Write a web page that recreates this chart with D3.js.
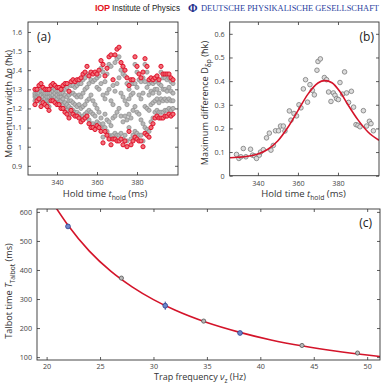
<!DOCTYPE html>
<html>
<head>
<meta charset="utf-8">
<script src="https://cdn.jsdelivr.net/npm/d3@7"></script>
<style>
  body { margin: 0; background: #fff; }
  svg text { font-family: "Open Sans", "DejaVu Sans", sans-serif; }
</style>
</head>
<body>
<div id="chart"></div>
<script>
// --- Data ---
// (a) hold times and the max / min widths (red) plus the other widths (grey)
const holdTimes = d3.range(329, 399);
const widthHigh = [1.30,1.30,1.32,1.33,1.31,1.30,1.30,1.30,1.32,1.33,1.32,1.31,1.31,1.30,1.32,1.33,1.33,1.29,1.34,1.35,
  1.34,1.35,1.35,1.36,1.38,1.39,1.42,1.37,1.39,1.38,1.39,1.38,1.40,1.45,1.43,1.37,1.41,1.47,1.48,1.35,
  1.48,1.51,1.52,1.44,1.42,1.40,1.36,1.32,1.35,1.35,1.47,1.42,1.38,1.36,1.39,1.46,1.42,1.35,1.36,1.35,
  1.36,1.37,1.35,1.42,1.38,1.38,1.38,1.38,1.36,1.35];
const widthLow = [1.22,1.24,1.25,1.21,1.23,1.22,1.21,1.19,1.24,1.24,1.23,1.22,1.22,1.20,1.20,1.18,1.17,1.15,1.19,1.17,
  1.16,1.16,1.15,1.13,1.14,1.15,1.16,1.12,1.10,1.10,1.09,1.11,1.10,1.08,1.02,1.08,1.06,1.04,1.01,1.04,
  1.04,1.03,1.03,1.04,1.01,1.03,1.00,1.08,1.01,1.03,1.05,1.04,1.03,1.03,1.00,1.07,1.06,1.05,1.10,1.12,
  1.15,1.16,1.15,1.15,1.15,1.16,1.16,1.17,1.16,1.17];
const widthOther = [
  [1.24,1.26,1.27,1.28],[1.25,1.26,1.28,1.29],[1.26,1.27,1.28,1.30],[1.23,1.25,1.27,1.29],[1.24,1.26,1.28,1.29],
  [1.23,1.25,1.27,1.28],[1.22,1.24,1.26,1.28],[1.21,1.24,1.26,1.28],[1.25,1.27,1.28,1.30],[1.25,1.27,1.29,1.31],
  [1.24,1.26,1.28,1.30],[1.23,1.25,1.27,1.29],[1.23,1.26,1.28,1.29],[1.21,1.24,1.26,1.28],[1.22,1.25,1.28,1.30],
  [1.20,1.23,1.27,1.30],[1.19,1.22,1.26,1.31],[1.17,1.21,1.24,1.27],[1.20,1.24,1.28,1.32],[1.19,1.23,1.28,1.32],
  [1.18,1.22,1.27,1.31],[1.18,1.21,1.26,1.32],[1.17,1.22,1.27,1.33],[1.15,1.20,1.26,1.33],[1.16,1.21,1.28,1.35],
  [1.17,1.22,1.30,1.36],[1.18,1.24,1.31,1.38],[1.14,1.19,1.25,1.33],[1.12,1.18,1.27,1.35],[1.12,1.17,1.24,1.34],
  [1.11,1.16,1.22,1.35],[1.13,1.20,1.31,1.36],[1.12,1.18,1.30,1.37],[1.10,1.15,1.33,1.41],[1.05,1.12,1.27,1.39],
  [1.10,1.17,1.25,1.34],[1.08,1.14,1.28,1.38],[1.06,1.13,1.30,1.43],[1.04,1.11,1.24,1.42],[1.06,1.15,1.22,1.32],
  [1.07,1.16,1.29,1.44],[1.06,1.18,1.33,1.46],[1.06,1.20,1.36,1.47],[1.07,1.16,1.28,1.40],[1.04,1.13,1.26,1.38],
  [1.06,1.16,1.24,1.37],[1.03,1.14,1.22,1.33],[1.10,1.17,1.25,1.30],[1.04,1.15,1.27,1.33],[1.06,1.19,1.28,1.33],
  [1.08,1.21,1.33,1.43],[1.07,1.18,1.31,1.39],[1.06,1.17,1.27,1.35],[1.06,1.14,1.25,1.34],[1.03,1.12,1.28,1.36],
  [1.10,1.21,1.34,1.43],[1.09,1.20,1.31,1.39],[1.08,1.19,1.27,1.33],[1.13,1.22,1.29,1.34],[1.15,1.23,1.28,1.33],
  [1.18,1.24,1.30,1.34],[1.19,1.25,1.30,1.35],[1.18,1.23,1.28,1.33],[1.18,1.25,1.32,1.39],[1.18,1.24,1.30,1.36],
  [1.19,1.25,1.30,1.36],[1.19,1.24,1.29,1.35],[1.20,1.25,1.31,1.36],[1.19,1.24,1.29,1.34],[1.20,1.24,1.28,1.33]
];

// (b) maximum difference vs hold time, and the fitted curve
const diffTime = [329.3,330.5,331.5,332.7,334,336.3,337.3,338.3,339.3,340.7,341.3,342.7,344.3,345.7,346.5,347.7,348.8,350.3,
  351.3,352.7,353.5,355.7,356.5,358,359.3,360.5,361.5,362.7,363.8,364.8,366,367.2,368.2,369.5,370,371.2,373.2,374.3,
  375.3,376.5,377.7,378.5,379.3,380.2,381,382.3,383.3,384.3,385.3,386.7,387.8,389,390,391,392.7,394.3,395.7,396.5,397.7];
const diffValue = [0.090,0.073,0.080,0.115,0.080,0.112,0.087,0.084,0.073,0.087,0.100,0.110,0.160,0.180,0.108,0.128,0.190,0.190,
  0.210,0.210,0.189,0.274,0.235,0.263,0.253,0.300,0.287,0.367,0.406,0.311,0.385,0.361,0.342,0.446,0.483,0.494,0.415,0.406,
  0.354,0.314,0.350,0.340,0.326,0.322,0.394,0.345,0.439,0.350,0.310,0.357,0.290,0.216,0.213,0.207,0.275,0.210,0.230,0.220,0.190];
const fitTime = [325.9,330,335,340,345,350,355,360,365,370,373.5,377,381,385,390,395,400.5];
const fitValue = [0.076,0.078,0.082,0.092,0.112,0.148,0.205,0.275,0.345,0.392,0.402,0.393,0.355,0.300,0.236,0.185,0.150];

// (c) Talbot time vs trap frequency
const trapFreq = [22, 27, 31.1, 34.7, 38.1, 43.9, 49.1];
const talbotTime = [550, 372, 277, 224, 183, 140, 114];
const talbotErr = [6, 0, 14, 0, 6, 0, 0];
const talbotBlue = [true, false, true, false, true, false, false];
const curveFreq = [20.9, 22, 24, 26, 28, 30, 32, 35, 38, 41, 44, 47, 50, 51.2];
const curveTime = [613, 554, 465, 396, 342, 298, 262, 219, 186, 159, 138, 121, 107, 102];

// --- Setup ---
const W = 384, H = 383;
const svg = d3.select("#chart").append("svg").attr("width", W).attr("height", H);
const RED = "#d4142a", AXIS = "#333";

// header (inline style so the CSS default font does not win)
const hdr = svg.append("g");
hdr.append("text").attr("x", 95).attr("y", 11).style("font-family", "'Liberation Sans', Arial").attr("font-weight", "bold")
  .attr("font-size", 9).attr("fill", "#e3141c").attr("textLength", 15).text("IOP");
hdr.append("text").attr("x", 112).attr("y", 11).style("font-family", "'Liberation Sans Narrow', 'Liberation Sans'")
  .attr("font-size", 8.5).attr("fill", "#222").attr("textLength", 68).attr("lengthAdjust", "spacingAndGlyphs").text("Institute of Physics");
hdr.append("text").attr("x", 188).attr("y", 11.5).style("font-family", "'Liberation Serif', serif").attr("font-weight", "bold")
  .attr("font-size", 11.5).attr("fill", "#1d2d8a").text("Φ");
hdr.append("text").attr("x", 201).attr("y", 11).style("font-family", "'Liberation Serif', serif")
  .attr("font-size", 7.4).attr("fill", "#2b3fa0").attr("textLength", 178).attr("lengthAdjust", "spacingAndGlyphs")
  .text("DEUTSCHE PHYSIKALISCHE GESELLSCHAFT");

// --- helpers ---
function frame(x, y, xTicks, yTicks, yFmt, xPad, yPad) {
  const g = svg.append("g");
  const [x0, x1] = x.range(), [y0, y1] = y.range();
  const axes = [
    [d3.axisBottom(x).tickValues(xTicks).tickPadding(xPad), `translate(0,${y0})`],
    [d3.axisTop(x).tickValues(xTicks).tickFormat(""), `translate(0,${y1})`],
    [d3.axisLeft(y).tickValues(yTicks).tickFormat(yFmt).tickPadding(yPad), `translate(${x0},0)`],
    [d3.axisRight(y).tickValues(yTicks).tickFormat(""), `translate(${x1},0)`]
  ];
  axes.forEach(([ax, tr]) => {
    const a = g.append("g").attr("transform", tr).call(ax.tickSizeInner(-3).tickSizeOuter(0));
    a.select(".domain").remove();
    a.selectAll(".tick line").attr("stroke", AXIS).attr("stroke-width", 0.8);
    a.selectAll("text").attr("fill", "#444").attr("font-size", 7.2);
  });
  g.append("rect").attr("x", x0).attr("y", y1).attr("width", x1 - x0).attr("height", y0 - y1)
    .attr("fill", "none").attr("stroke", AXIS).attr("stroke-width", 0.9);
  return g;
}

function label(x, y, rot, parts, size) {
  const t = svg.append("text").attr("font-size", size).attr("fill", "#333").attr("text-anchor", "middle")
    .attr("transform", `translate(${x},${y}) rotate(${rot})`);
  let shift = 0;
  parts.forEach(([s, kind]) => {
    const sp = t.append("tspan").text(s);
    const want = kind === "s" ? 2.5 : 0;
    if (want !== shift) { sp.attr("dy", want - shift); shift = want; }
    if (kind === "i") sp.attr("font-style", "italic");
    if (kind === "s") sp.attr("font-size", size * 0.72);
  });
}

function panelTag(x, y, s, anchor) {
  svg.append("text").attr("x", x).attr("y", y).attr("font-size", 12).attr("fill", "#222")
    .attr("text-anchor", anchor).text(s);
}

// --- (a) ---
const xA = d3.scaleLinear().domain([325.5, 400.5]).range([28, 178]);
const yA = d3.scaleLinear().domain([0.852, 1.652]).range([175, 22]);
const grayPts = holdTimes.flatMap((t, i) => widthOther[i].map(v => [t, v]));
const redPts = holdTimes.flatMap((t, i) => [[t, widthHigh[i]], [t, widthLow[i]]]);
svg.append("g").selectAll("circle").data(grayPts).join("circle")
  .attr("cx", d => xA(d[0])).attr("cy", d => yA(d[1])).attr("r", 2.1)
  .attr("fill", "#b8b8b8").attr("stroke", "#8a8a8a").attr("stroke-width", 0.7);
svg.append("g").selectAll("circle").data(redPts).join("circle")
  .attr("cx", d => xA(d[0])).attr("cy", d => yA(d[1])).attr("r", 2.1)
  .attr("fill", "#f07078").attr("stroke", "#e0102a").attr("stroke-width", 1);
frame(xA, yA, [340, 360, 380], d3.range(0.9, 1.65, 0.1), d => +d.toFixed(1), 5, 6);
label(105, 197, 0, [["Hold time "], ["t", "i"], ["hold", "s"], [" (ms)"]], 9.5);
label(12, 104, -90, [["Momentum width Δ"], ["p", "i"], [" (ħk)"]], 9.2);
panelTag(37, 41, "(a)", "start");

// --- (b) ---
const xB = d3.scaleLinear().domain([325.9, 400.5]).range([229.7, 379]);
const yB = d3.scaleLinear().domain([0, 0.65]).range([175.7, 22]);
svg.append("clipPath").attr("id", "clipB").append("rect")
  .attr("x", 229.7).attr("y", 22).attr("width", 149.3).attr("height", 153.7);
svg.append("g").selectAll("circle").data(diffTime).join("circle")
  .attr("cx", d => xB(d)).attr("cy", (d, i) => yB(diffValue[i])).attr("r", 2.3)
  .attr("fill", "#dcdcdc").attr("stroke", "#7a7a7a").attr("stroke-width", 0.8);
svg.append("path").datum(fitTime.map((t, i) => [t, fitValue[i]]))
  .attr("clip-path", "url(#clipB)")
  .attr("d", d3.line().x(d => xB(d[0])).y(d => yB(d[1])).curve(d3.curveMonotoneX))
  .attr("fill", "none").attr("stroke", RED).attr("stroke-width", 1.6);
frame(xB, yB, [340, 360, 380], d3.range(0, 0.65, 0.1), d => +d.toFixed(1), 5, 5);
label(303.5, 197, 0, [["Hold time "], ["t", "i"], ["hold", "s"], [" (ms)"]], 9.5);
label(208, 103, -90, [["Maximum difference D"], ["δp", "s"], [" (ħk)"]], 9.2);
panelTag(374, 41, "(b)", "end");

// --- (c) ---
const xC = d3.scaleLinear().domain([19.1, 51.2]).range([37, 380]);
const yC = d3.scaleLinear().domain([90, 610]).range([360, 209]);
svg.append("clipPath").attr("id", "clipC").append("rect")
  .attr("x", 37).attr("y", 209).attr("width", 343).attr("height", 151);
svg.append("path").datum(curveFreq.map((f, i) => [f, curveTime[i]]))
  .attr("clip-path", "url(#clipC)")
  .attr("d", d3.line().x(d => xC(d[0])).y(d => yC(d[1])).curve(d3.curveMonotoneX))
  .attr("fill", "none").attr("stroke", RED).attr("stroke-width", 1.6);
const ptsC = trapFreq.map((f, i) => ({ f, t: talbotTime[i], e: talbotErr[i], blue: talbotBlue[i] }));
svg.append("g").selectAll("line").data(ptsC.filter(d => d.e > 0)).join("line")
  .attr("x1", d => xC(d.f)).attr("x2", d => xC(d.f))
  .attr("y1", d => yC(d.t - d.e)).attr("y2", d => yC(d.t + d.e))
  .attr("stroke", "#2a3f8f").attr("stroke-width", 1);
svg.append("g").selectAll("circle").data(ptsC).join("circle")
  .attr("cx", d => xC(d.f)).attr("cy", d => yC(d.t)).attr("r", d => d.blue ? 2.4 : 2.1)
  .attr("fill", d => d.blue ? "#6d86c8" : "#b8b8b8")
  .attr("stroke", d => d.blue ? "#2a3f8f" : "#555").attr("stroke-width", 0.8);
frame(xC, yC, d3.range(20, 51, 5), d3.range(100, 601, 100), d => d, 4, 5);
label(200, 380, 0, [["Trap frequency "], ["ν", "i"], ["z", "s"], [" (Hz)"]], 9);
label(12, 291, -90, [["Talbot time "], ["T", "i"], ["Talbot", "s"], [" (ms)"]], 9.2);
panelTag(372, 227, "(c)", "end");
</script>
</body>
</html>
